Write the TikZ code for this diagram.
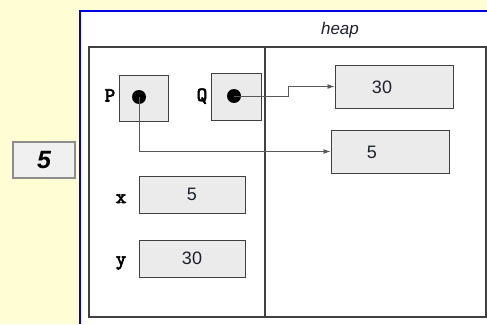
\documentclass[tikz,border=0pt]{standalone}
\usepackage{fontspec}
\setmainfont{Liberation Sans}
\newfontfamily\monob{lmmono10-regular.otf}[FakeBold=3.5]
\usetikzlibrary{arrows.meta}
\definecolor{bgyellow}{HTML}{FFFDD3}
\definecolor{boxfill}{HTML}{EBEBEB}
\definecolor{framegray}{HTML}{404040}
\definecolor{txt}{HTML}{20202C}
\definecolor{blueline}{HTML}{0000E0}
\tikzset{
  cell/.style={draw=framegray, fill=boxfill, line width=1pt, inner sep=0pt, text=txt, font=\fontsize{18}{20}\selectfont},
  dot/.style={circle, fill=black, inner sep=0pt, minimum size=14pt},
  varname/.style={font=\monob\fontsize{20}{22}\selectfont, text=black, inner sep=0pt, anchor=base},
  ptr/.style={draw=black!65, line width=0.9pt, -{Latex[length=7pt,width=5pt]}},
}
\begin{document}
\begin{tikzpicture}[x=1pt,y=-1pt]
\useasboundingbox (0,0) rectangle (487,324);
\fill[bgyellow] (0,0) rectangle (487,324);
\fill[white] (80,11) rectangle (487,324);
\draw[blueline, line width=2.5pt] (80,324) -- (80,11) -- (487,11);
% frame
\draw[framegray, line width=1.2pt] (89,47) rectangle (486,317);
\draw[framegray, line width=1.2pt] (265,47) -- (265,317);
\node[font=\itshape\fontsize{17}{18}\selectfont, text=txt] (heap) at (340,30) {heap};
% left answer box
\node[draw=black!45, fill=black!6, line width=2pt, minimum width=62pt, minimum height=36pt,
      font=\bfseries\itshape\fontsize{25}{26}\selectfont] (ans) at (44,160) {5};
% pointer variables
\node[cell, minimum width=49pt, minimum height=46pt] (pbox) at (143.5,98) {};
\node[cell, minimum width=50pt, minimum height=47pt] (qbox) at (236,96.5) {};
\node[dot] (pd) at (139,97) {};
\node[dot] (qd) at (234,96) {};
\node[varname] (pl) at (110,101.5) {P};
\node[varname] (ql) at (202,101) {Q};
% heap cells
\node[cell, minimum width=118pt, minimum height=43pt] (h30) at (394,86.5) {};
\node[font=\fontsize{18}{20}\selectfont, text=txt] (h30t) at (382,87) {30};
\node[cell, minimum width=118pt, minimum height=43pt] (h5) at (390,151.5) {};
\node[font=\fontsize{18}{20}\selectfont, text=txt] (h5t) at (372,152) {5};
% x and y
\node[cell, minimum width=106pt, minimum height=37pt] (xb) at (192,194.5) {5};
\node[cell, minimum width=106pt, minimum height=37pt] (yb) at (192,258.5) {30};
\node[varname] (xl) at (121,203) {x};
\node[varname] (yl) at (121,265) {y};
% pointers
\draw[ptr] (qd.center) -- ++(54,0) |- (h30.west);
\draw[ptr] (pd.center) |- (h5.west);
\end{tikzpicture}
\end{document}
